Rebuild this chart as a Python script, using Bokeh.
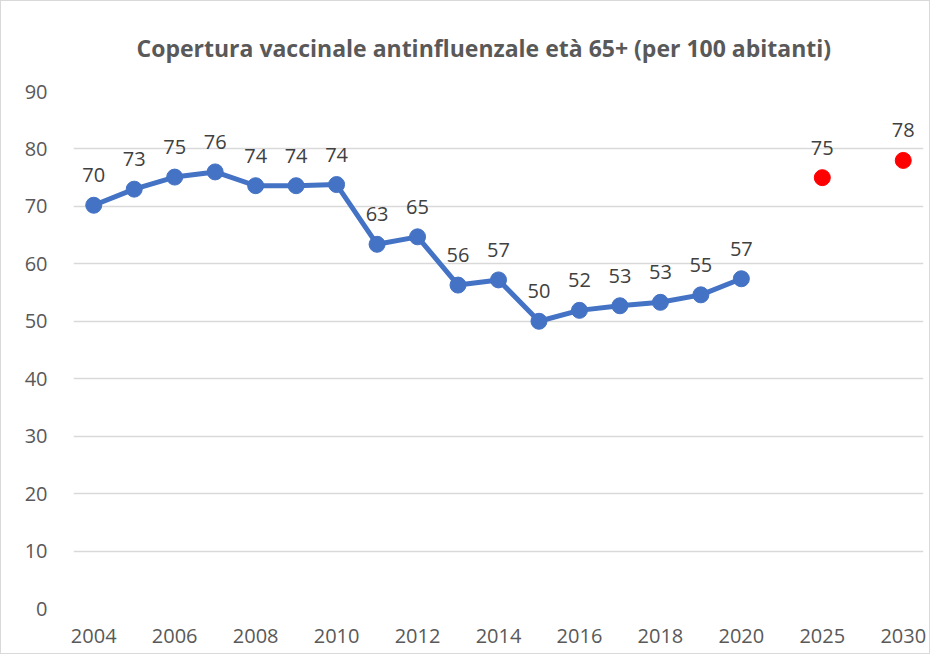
from bokeh.plotting import figure
from bokeh.models import ColumnDataSource, LabelSet, FixedTicker, Range1d, Title
from bokeh.core.properties import value
from bokeh.embed import file_html
from bokeh.resources import INLINE

# Category slots of the x axis (labels shown every other slot)
categories = [str(y) for y in range(2004, 2021)] + ["2022", "2025", "2027", "2030"]
tick_labels = ["2004", "2006", "2008", "2010", "2012", "2014", "2016", "2018", "2020", "2025", "2030"]

hist_years = [str(y) for y in range(2004, 2021)]
hist_values = [70.2, 73.0, 75.1, 76.0, 73.6, 73.6, 73.8, 63.4, 64.7, 56.3, 57.2,
               50.0, 51.9, 52.7, 53.3, 54.6, 57.4]
target_years = ["2025", "2030"]
target_values = [75.0, 78.0]

idx = {c: i for i, c in enumerate(categories)}

hist_src = ColumnDataSource(dict(
    x=[idx[y] for y in hist_years], y=hist_values,
    lab=[f"{v:.0f}" for v in hist_values]))
tgt_src = ColumnDataSource(dict(
    x=[idx[y] for y in target_years], y=target_values,
    lab=[f"{v:.0f}" for v in target_values]))

W, H = 930, 654
p = figure(width=W, height=H, output_backend="svg", toolbar_location=None,
           x_range=Range1d(-0.5, len(categories) - 0.5), y_range=Range1d(0, 90),
           min_border_left=72, min_border_right=8, min_border_top=89, min_border_bottom=47)
p.styles = {"border": "1px solid #d9d9d9"}
p.outline_line_color = None
p.background_fill_color = "white"

FONT = "Open Sans"
p.title = Title(text="Copertura vaccinale antinfluenzale età 65+ (per 100 abitanti)",
                align="left", offset=63, text_font="Open Sans", text_font_style="bold",
                text_font_size="23px", text_color="#595959")
p.title.standoff = 56

p.xaxis.ticker = FixedTicker(ticks=[idx[t] for t in tick_labels])
p.xaxis.major_label_overrides = {idx[t]: t for t in tick_labels}
p.yaxis.ticker = FixedTicker(ticks=list(range(0, 91, 10)))
for ax in (p.xaxis, p.yaxis):
    ax.axis_line_color = None
    ax.major_tick_line_color = None
    ax.minor_tick_line_color = None
    ax.major_label_text_font = FONT
    ax.major_label_text_font_size = "20px"
    ax.major_label_text_color = "#595959"
p.xaxis.major_label_standoff = 14
p.yaxis.major_label_standoff = 20

p.xgrid.grid_line_color = None
p.ygrid.grid_line_color = "#d9d9d9"
p.ygrid.grid_line_width = 1.5

p.line("x", "y", source=hist_src, line_color="#4472C4", line_width=5)
p.scatter("x", "y", source=hist_src, size=16, fill_color="#4472C4", line_color="#4472C4")
p.scatter("x", "y", source=tgt_src, size=16, fill_color="#FF0000", line_color="#FF0000")

for src in (hist_src, tgt_src):
    p.add_layout(LabelSet(x="x", y="y", text="lab", source=src, y_offset=23,
                          text_align="center", text_baseline="alphabetic",
                          text_font=value(FONT), text_font_size=value("20px"),
                          text_color="#404040"))

open("out.html", "w").write(file_html(p, INLINE))
